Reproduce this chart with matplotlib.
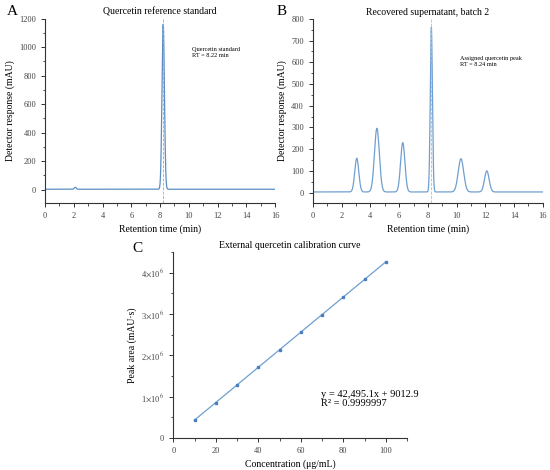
import matplotlib
matplotlib.use("Agg")
import matplotlib.pyplot as plt
import numpy as np
from matplotlib.ticker import MultipleLocator, FuncFormatter

plt.rcParams['font.family'] = ['Liberation Serif', 'DejaVu Serif']
plt.rcParams['mathtext.fontset'] = 'stix'

# peak tables (retention time, height, width)
a_rt = [2.1, 8.22]
a_height = [14, 1160]
a_sigma = [0.07, 0.085]
a_baseline = 2

b_rt = [3.05, 4.45, 6.25, 8.24, 10.3, 12.1]
b_height = [155, 293, 227, 757, 153, 97]
b_sigma = [0.14, 0.17, 0.15, 0.075, 0.19, 0.16]
b_baseline = 3

# calibration points
conc = [10, 20, 30, 40, 50, 60, 70, 80, 90, 100]
area = [434000, 859000, 1284000, 1709000, 2134000, 2559000, 2984000, 3409000, 3834000, 4259000]
slope = 42495.1
intercept = 9012.9

line_col = '#6f9fd0'
spine_col = '#333333'


def trace(t, rts, heights, sigmas, base):
    y = np.full_like(t, base, dtype=float)
    for r, h, s in zip(rts, heights, sigmas):
        y += h * np.exp(-0.5 * ((t - r) / s) ** 2)
    return y


def style(ax):
    ax.spines['top'].set_visible(False)
    ax.spines['right'].set_visible(False)
    for s in ['left', 'bottom']:
        ax.spines[s].set_color(spine_col)
        ax.spines[s].set_linewidth(0.8)
    ax.tick_params(which='major', direction='out', length=3, width=0.7, labelsize=6,
                   colors=spine_col, labelcolor='#444444')
    ax.tick_params(which='minor', direction='out', length=1.8, width=0.6, colors=spine_col)


fig = plt.figure(figsize=(5.5, 4.7), dpi=100)

t = np.linspace(0, 16, 4000)

# A
axA = fig.add_axes([0.082, 0.568, 0.418, 0.392])
axA.plot(t, trace(t, a_rt, a_height, a_sigma, a_baseline), color='#5b8ec4', lw=0.9)
axA.axvline(a_rt[1], color='#aaaaaa', ls='--', lw=0.6)
axA.set_xlim(0, 16)
axA.set_ylim(-95, 1200)
axA.xaxis.set_major_locator(MultipleLocator(2))
axA.xaxis.set_minor_locator(MultipleLocator(1))
axA.yaxis.set_major_locator(MultipleLocator(200))
axA.yaxis.set_minor_locator(MultipleLocator(100))
style(axA)
axA.set_title('Quercetin reference standard', fontsize=7, pad=3)
axA.set_xlabel('Retention time (min)', fontsize=7, labelpad=3)
axA.set_ylabel('Detector response (mAU)', fontsize=7, labelpad=3)
axA.text(10.2, 1000, 'Quercetin standard\nRT = 8.22 min', fontsize=4.5, va='top', linespacing=1.3)
fig.text(0.012, 0.975, 'A', fontsize=11, va='center')

# B
axB = fig.add_axes([0.569, 0.568, 0.418, 0.392])
axB.plot(t, trace(t, b_rt, b_height, b_sigma, b_baseline), color=line_col, lw=0.9)
axB.axvline(b_rt[3], color='#bbbbbb', ls='--', lw=0.6)
axB.set_xlim(0, 16)
axB.set_ylim(-48, 800)
axB.xaxis.set_major_locator(MultipleLocator(2))
axB.xaxis.set_minor_locator(MultipleLocator(1))
axB.yaxis.set_major_locator(MultipleLocator(100))
axB.yaxis.set_minor_locator(MultipleLocator(50))
style(axB)
axB.set_title('Recovered supernatant, batch 2', fontsize=7, pad=3)
axB.set_xlabel('Retention time (min)', fontsize=7, labelpad=3)
axB.set_ylabel('Detector response (mAU)', fontsize=7, labelpad=3)
axB.text(10.2, 630, 'Assigned quercetin peak\nRT = 8.24 min', fontsize=4.5, va='top', linespacing=1.3)
fig.text(0.503, 0.975, 'B', fontsize=11, va='center')

# C
axC = fig.add_axes([0.315, 0.068, 0.425, 0.396])
xs = np.array([conc[0], conc[-1]])
axC.plot(xs, slope * xs + intercept, color=line_col, lw=0.9)
axC.plot(conc, area, 's', color='#4a7fbf', ms=2)
axC.set_xlim(0, 110)
axC.set_ylim(0, 4.5e6)
axC.xaxis.set_major_locator(MultipleLocator(20))
axC.xaxis.set_minor_locator(MultipleLocator(10))
axC.yaxis.set_major_locator(MultipleLocator(1e6))
axC.yaxis.set_minor_locator(MultipleLocator(5e5))


def sci(v, pos):
    if v == 0:
        return '0'
    return r'%d$\times$10$^{6}$' % round(v / 1e6)


axC.yaxis.set_major_formatter(FuncFormatter(sci))
style(axC)
axC.set_title('External quercetin calibration curve', fontsize=7, pad=3)
axC.set_xlabel('Concentration (\u03bcg/mL)', fontsize=7, labelpad=3)
axC.set_ylabel('Peak area (mAU\u00b7s)', fontsize=7, labelpad=3)
axC.text(69.5, 1.17e6, 'y = 42,495.1x + 9012.9\nR\u00b2 = 0.9999997', fontsize=7.5, va='top', linespacing=1.1)
fig.text(0.24, 0.472, 'C', fontsize=11, va='center')

fig.savefig('out.png', dpi=100)
